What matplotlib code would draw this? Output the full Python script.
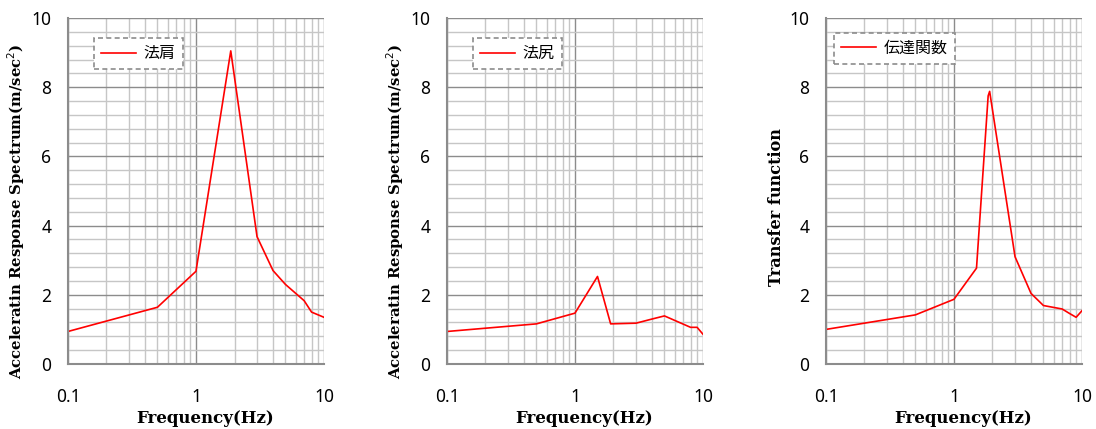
import matplotlib
import matplotlib.pyplot as plt
from matplotlib.ticker import FixedLocator, NullFormatter, MultipleLocator

matplotlib.use("Agg")

# Data
freq_kata = [0.1, 0.5, 1.0, 1.87, 3.0, 4.0, 5.0, 7.0, 8.0, 10.0]
acc_kata = [0.94, 1.64, 2.68, 9.05, 3.68, 2.70, 2.30, 1.83, 1.50, 1.35]

freq_jiri = [0.1, 0.5, 1.0, 1.5, 1.9, 3.0, 4.0, 5.0, 8.0, 9.0, 10.0]
acc_jiri = [0.94, 1.16, 1.47, 2.53, 1.16, 1.18, 1.30, 1.39, 1.06, 1.06, 0.86]

freq_tf = [0.1, 0.5, 1.0, 1.5, 1.85, 1.9, 3.0, 4.0, 5.0, 7.0, 8.0, 9.0, 10.0]
tf_vals = [1.0, 1.42, 1.87, 2.77, 7.75, 7.88, 3.10, 2.04, 1.69, 1.59, 1.46, 1.35, 1.54]

# (x, y, legend name, y label, y label size, y label centre, legend anchor)
panels = [
    (freq_kata, acc_kata, "法肩", "Acceleratin Response Spectrum(m/sec$^2$)", 10.7, 0.442, (0.10, 0.942)),
    (freq_jiri, acc_jiri, "法尻", "Acceleratin Response Spectrum(m/sec$^2$)", 10.7, 0.442, (0.10, 0.942)),
    (freq_tf, tf_vals, "伝達関数", "Transfer function", 11.6, 0.454, (0.03, 0.957)),
]

fig = plt.figure(figsize=(10.96, 4.29), dpi=100)
lefts = [0.062, 0.4078, 0.7536]
minor_x = [m * 10.0 ** e for e in (-1, 0) for m in range(2, 10)]

for left, (fx, fy, name, ylab, ysize, ycen, leg_pos) in zip(lefts, panels):
    ax = fig.add_axes([left, 0.1515, 0.2336, 0.8065])
    ax.plot(fx, fy, color="#ff0000", linewidth=1.2, label=name)
    ax.set_xscale("log")
    ax.set_xlim(0.1, 10)
    ax.set_ylim(0, 10)

    ax.xaxis.set_major_locator(FixedLocator([0.1, 1, 10]))
    ax.xaxis.set_minor_locator(FixedLocator(minor_x))
    ax.xaxis.set_minor_formatter(NullFormatter())
    ax.set_xticklabels(["0.1", "1", "10"])
    ax.yaxis.set_major_locator(MultipleLocator(2))
    ax.yaxis.set_minor_locator(MultipleLocator(0.4))

    ax.grid(which="major", color="#8c8c8c", linewidth=1.0)
    ax.grid(which="minor", color="#c6c6c6", linewidth=1.0)
    ax.set_axisbelow(True)
    ax.tick_params(which="both", length=0, labelsize=12.5)
    ax.tick_params(axis="x", pad=17)
    ax.tick_params(axis="y", pad=12)
    for lbl in ax.get_xticklabels() + ax.get_yticklabels():
        lbl.set_fontfamily("Noto Sans")

    for side in ("top", "right"):
        ax.spines[side].set_visible(False)
    for side in ("left", "bottom"):
        ax.spines[side].set_color("#8c8c8c")
        ax.spines[side].set_linewidth(1.5)

    ax.set_xlabel("Frequency(Hz)", fontsize=12, fontweight="bold",
                  family="DejaVu Serif", labelpad=3)
    ax.set_ylabel(ylab, fontsize=ysize, fontweight="bold",
                  family="DejaVu Serif", labelpad=3)
    # Excel places the axis titles a little off centre
    ax.xaxis.label.set_x(0.535)
    ax.yaxis.label.set_y(ycen)

    leg = ax.legend(loc="upper left", bbox_to_anchor=leg_pos,
                    prop={"family": ["Noto Sans CJK JP", "DejaVu Sans"], "size": 11.5},
                    fancybox=False, framealpha=1, handlelength=2.2,
                    handletextpad=0.5, borderpad=0.45, borderaxespad=0)
    frame = leg.get_frame()
    frame.set_edgecolor("#8c8c8c")
    frame.set_linestyle((0, (3, 2)))
    frame.set_linewidth(1.2)

fig.savefig("out.png", dpi=100)
plt.close(fig)
